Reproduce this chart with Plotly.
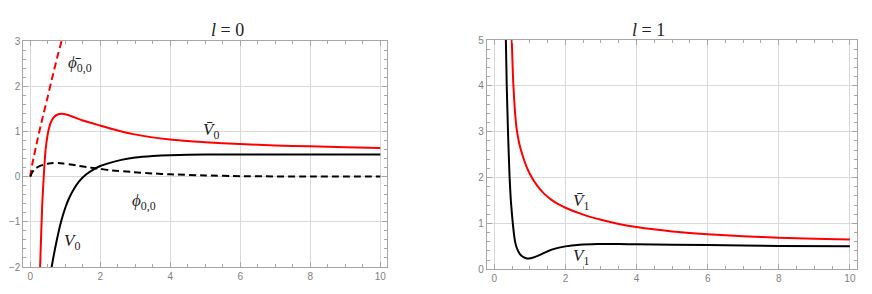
import plotly.graph_objects as go

# ---- left panel (l = 0) ----
x_phibar00 = [0.0, 0.02, 0.05, 0.09, 0.2, 0.34, 0.49, 0.63, 0.77, 0.91, 0.95]
y_phibar00 = [0.0, 0.12, 0.25, 0.40, 0.80, 1.27, 1.74, 2.20, 2.64, 3.05, 3.18]

x_Vbar0 = [0.27, 0.28, 0.31, 0.34, 0.39, 0.44, 0.53, 0.61, 0.68, 0.78, 0.9, 1.05, 1.2, 1.5, 1.99, 2.5, 2.94, 3.99, 5.0, 5.99, 7.0, 7.99, 9.0, 10.0]
y_Vbar0 = [-2.3, -2.0, -1.3, -0.63, 0.08, 0.62, 1.06, 1.24, 1.32, 1.375, 1.39, 1.37, 1.33, 1.24, 1.13, 1.02, 0.94, 0.82, 0.76, 0.72, 0.69, 0.67, 0.65, 0.63]

x_V0 = [0.58, 0.61, 0.7, 0.8, 0.9, 1.0, 1.1, 1.25, 1.4, 1.6, 1.8, 2.0, 2.3, 2.6, 3.0, 3.5, 4.0, 5.0, 6.0, 8.0, 10.0]
y_V0 = [-2.15, -2.0, -1.62, -1.25, -0.94, -0.69, -0.49, -0.27, -0.10, 0.05, 0.155, 0.235, 0.31, 0.37, 0.425, 0.458, 0.475, 0.487, 0.49, 0.49, 0.49]

x_phi00 = [0.0, 0.05, 0.13, 0.25, 0.37, 0.5, 0.66, 0.8, 0.94, 1.1, 1.3, 1.61, 1.99, 2.28, 2.94, 3.5, 3.99, 5.0, 6.0, 8.0, 10.0]
y_phi00 = [0.0, 0.09, 0.17, 0.225, 0.26, 0.285, 0.30, 0.30, 0.29, 0.275, 0.25, 0.21, 0.17, 0.14, 0.10, 0.07, 0.05, 0.025, 0.01, 0.0, 0.0]

# ---- right panel (l = 1) ----
x_V1 = [0.315, 0.325, 0.35, 0.385, 0.43, 0.465, 0.52, 0.58, 0.63, 0.72, 0.82, 0.92, 1.02, 1.15, 1.33, 1.52, 1.71, 2.0, 2.4, 2.9, 3.5, 4.0, 6.0, 8.0, 10.0]
y_V1 = [5.4, 5.0, 4.0, 3.0, 2.0, 1.5, 1.0, 0.62, 0.47, 0.33, 0.265, 0.235, 0.24, 0.27, 0.33, 0.40, 0.45, 0.50, 0.535, 0.55, 0.55, 0.545, 0.53, 0.51, 0.50]

x_Vbar1 = [0.47, 0.49, 0.53, 0.58, 0.63, 0.7, 0.8, 0.9, 1.0, 1.2, 1.4, 1.6, 1.8, 2.0, 2.5, 3.0, 3.5, 4.0, 5.0, 6.0, 7.0, 8.0, 9.0, 10.0]
y_Vbar1 = [5.5, 5.04, 4.1, 3.45, 3.05, 2.75, 2.47, 2.25, 2.08, 1.83, 1.65, 1.52, 1.42, 1.342, 1.192, 1.08, 0.99, 0.92, 0.825, 0.765, 0.72, 0.69, 0.668, 0.65]

RED = "#ff0000"
BLACK = "#000000"
SERIF = "Liberation Serif"

# page body has an 8px margin: figure placed at (8, 8)
W, H, OFF = 864, 286, 8
def px(v):
    return (v - OFF) / W
def py(v):
    return 1 - (v - OFF) / H

fig = go.Figure()

def add(x, y, color, dash, xa, ya):
    fig.add_trace(go.Scatter(x=x, y=y, mode="lines", xaxis=xa, yaxis=ya,
                             line=dict(color=color, width=2, dash=dash, shape="spline", smoothing=0.5),
                             showlegend=False, hoverinfo="skip"))

add(x_phibar00, y_phibar00, RED, "7px,4px", "x", "y")
add(x_Vbar0, y_Vbar0, RED, "solid", "x", "y")
add(x_V0, y_V0, BLACK, "solid", "x", "y")
add(x_phi00, y_phi00, BLACK, "7px,4px", "x", "y")
add(x_Vbar1, y_Vbar1, RED, "solid", "x2", "y2")
add(x_V1, y_V1, BLACK, "solid", "x2", "y2")

axis_common = dict(
    showline=True, linecolor="#a6a6a6", linewidth=1, mirror="ticks",
    ticks="inside", ticklen=5, tickcolor="#a6a6a6", tickwidth=1,
    showgrid=True, gridcolor="#d9d9d9", gridwidth=1, zeroline=False,
    tickfont=dict(family="Liberation Sans", size=10, color="#7f7f7f"),
    fixedrange=True, automargin=False,
)
minor_x = dict(dtick=0.5, ticks="inside", ticklen=3, tickcolor="#a6a6a6", showgrid=False)
minor_y = dict(dtick=0.2, ticks="inside", ticklen=3, tickcolor="#a6a6a6", showgrid=False)

fig.update_layout(
    width=W, height=H,
    margin=dict(l=0, r=0, t=0, b=0),
    paper_bgcolor="white", plot_bgcolor="white",
    xaxis=dict(domain=[px(23.3), px(387)], range=[-0.2, 10.19], anchor="y",
               tick0=0, dtick=2, minor=minor_x, **axis_common),
    yaxis=dict(domain=[py(267), py(41)], range=[-2, 3], anchor="x",
               tick0=0, dtick=1, minor=minor_y, **axis_common),
    xaxis2=dict(domain=[px(486.7), px(857)], range=[-0.214, 10.2], anchor="y2",
                tick0=0, dtick=2, minor=minor_x, **axis_common),
    yaxis2=dict(domain=[py(269.3), py(40)], range=[0, 5], anchor="x2",
                tick0=0, dtick=1, minor=minor_y, **axis_common),
)

lab_font = dict(family=SERIF, size=17, color="#222222")
labels = [
    ("x", "y", 1.42, 2.5, "<i>ϕ̄</i><sub>0,0</sub>"),
    ("x", "y", 5.16, 1.0, "<i>V̄</i><sub>0</sub>"),
    ("x", "y", 3.25, -0.57, "<i>ϕ</i><sub>0,0</sub>"),
    ("x", "y", 1.19, -1.45, "<i>V</i><sub>0</sub>"),
    ("x2", "y2", 2.44, 1.47, "<i>V̄</i><sub>1</sub>"),
    ("x2", "y2", 2.44, 0.27, "<i>V</i><sub>1</sub>"),
]
for xa, ya, xv, yv, t in labels:
    fig.add_annotation(xref=xa, yref=ya, x=xv, y=yv, text=t, showarrow=False, font=lab_font)

title_font = dict(family=SERIF, size=18, color="#222222")
fig.add_annotation(xref="paper", yref="paper", x=px(209), y=py(18), text="<i>l</i> = 0",
                   showarrow=False, font=title_font)
fig.add_annotation(xref="paper", yref="paper", x=px(667), y=py(18), text="<i>l</i> = 1",
                   showarrow=False, font=title_font)

fig.write_html("out.html")
